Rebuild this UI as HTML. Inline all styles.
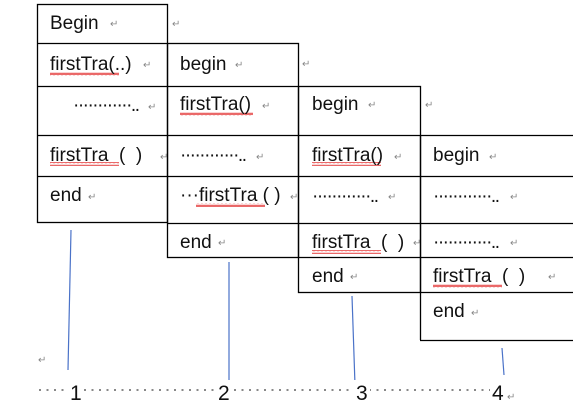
<!DOCTYPE html>
<html><head><meta charset="utf-8"><style>
html,body{margin:0;padding:0;background:#fff;}
svg{display:block}
text{font-family:"Liberation Sans","Noto Sans CJK SC",sans-serif;fill:#111;}
.t{font-size:19px}
.r{font-size:10px;fill:#888}
.n{font-size:21px}
</style></head><body>
<svg width="579" height="402" xmlns="http://www.w3.org/2000/svg">
<defs>
<pattern id="wv" width="4" height="4" patternUnits="userSpaceOnUse"><path d="M0 3 L1 1 L2 3 L3 1 L4 3" stroke="#e02020" stroke-width="0.8" fill="none"/></pattern>
</defs>
<g stroke="#000" stroke-width="1.3" fill="none">
<rect x="37.5" y="4.5" width="130" height="218"/>
<line x1="37" y1="43.5" x2="167" y2="43.5"/>
<line x1="37" y1="86.5" x2="167" y2="86.5"/>
<line x1="37" y1="135.5" x2="167" y2="135.5"/>
<line x1="37" y1="176.5" x2="167" y2="176.5"/>
<rect x="167.5" y="43.5" width="131" height="214"/>
<line x1="167" y1="86.5" x2="298" y2="86.5"/>
<line x1="167" y1="135.5" x2="298" y2="135.5"/>
<line x1="167" y1="176.5" x2="298" y2="176.5"/>
<line x1="167" y1="223.5" x2="298" y2="223.5"/>
<rect x="298.5" y="86.5" width="122" height="206"/>
<line x1="298" y1="135.5" x2="420" y2="135.5"/>
<line x1="298" y1="176.5" x2="420" y2="176.5"/>
<line x1="298" y1="223.5" x2="420" y2="223.5"/>
<line x1="298" y1="257.5" x2="420" y2="257.5"/>
<line x1="420.5" y1="135" x2="420.5" y2="340"/>
<line x1="420" y1="135.5" x2="573" y2="135.5"/>
<line x1="420" y1="176.5" x2="573" y2="176.5"/>
<line x1="420" y1="223.5" x2="573" y2="223.5"/>
<line x1="420" y1="257.5" x2="573" y2="257.5"/>
<line x1="420" y1="292.5" x2="573" y2="292.5"/>
<line x1="420" y1="340.5" x2="573" y2="340.5"/>
</g>
<g stroke="#4a72c8" stroke-width="1.2">
<line x1="71" y1="230" x2="68" y2="370"/>
<line x1="229" y1="262" x2="229" y2="398"/>
<line x1="352" y1="296" x2="355" y2="385"/>
<line x1="502" y1="348" x2="504" y2="375"/>
</g>
<g fill="url(#wv)">
<rect x="50" y="72" width="69" height="4"/>
<rect x="50" y="162" width="69" height="4"/>
<rect x="180" y="112" width="73" height="4"/>
<rect x="196" y="203" width="69" height="4"/>
<rect x="312" y="162" width="69" height="4"/>
<rect x="312" y="250" width="69" height="4"/>
<rect x="433" y="284" width="69" height="4"/>
</g>
<text class="t" x="50" y="29">Begin</text><text class="r" x="110" y="27">↵</text>
<text class="r" x="172" y="27">↵</text>
<text class="t" x="50" y="70">firstTra(..)</text><text class="r" x="143" y="68">↵</text>
<text class="t" x="73" y="111" letter-spacing="-1.5">············..</text><text class="r" x="148" y="110">↵</text>
<text class="t" x="50" y="161" xml:space="preserve">firstTra  (  )</text><text class="r" x="160" y="160">↵</text>
<text class="t" x="50" y="201">end</text><text class="r" x="88" y="200">↵</text>
<text class="t" x="180" y="70">begin</text><text class="r" x="235" y="68">↵</text>
<text class="r" x="302" y="67">↵</text>
<text class="t" x="180" y="110">firstTra()</text><text class="r" x="262" y="109">↵</text>
<text class="t" x="180" y="161" letter-spacing="-1.5">············..</text><text class="r" x="256" y="160">↵</text>
<text class="t" x="180" y="201">···firstTra ( )</text><text class="r" x="290" y="200">↵</text>
<text class="t" x="180" y="248">end</text><text class="r" x="218" y="246">↵</text>
<text class="t" x="312" y="110">begin</text><text class="r" x="368" y="108">↵</text>
<text class="r" x="425" y="108">↵</text>
<text class="t" x="312" y="161">firstTra()</text><text class="r" x="394" y="160">↵</text>
<text class="t" x="312" y="202" letter-spacing="-1.5">············..</text><text class="r" x="388" y="200">↵</text>
<text class="t" x="312" y="248" xml:space="preserve">firstTra  (  )</text><text class="r" x="413" y="246">↵</text>
<text class="t" x="312" y="282">end</text><text class="r" x="350" y="280">↵</text>
<text class="t" x="433" y="161">begin</text><text class="r" x="489" y="160">↵</text>
<text class="t" x="433" y="202" letter-spacing="-1.5">············..</text><text class="r" x="510" y="200">↵</text>
<text class="t" x="433" y="248" letter-spacing="-1.5">············..</text><text class="r" x="510" y="246">↵</text>
<text class="t" x="433" y="282" xml:space="preserve">firstTra  (  )</text><text class="r" x="548" y="280">↵</text>
<text class="t" x="433" y="317">end</text><text class="r" x="471" y="316">↵</text>
<text class="r" x="38" y="363">↵</text>
<line x1="39" y1="390" x2="505" y2="390" stroke="#888" stroke-width="2" stroke-dasharray="2,5.5"/>
<rect x="68" y="380" width="16" height="22" fill="#fff"/>
<rect x="216" y="380" width="16" height="22" fill="#fff"/>
<rect x="354" y="380" width="16" height="22" fill="#fff"/>
<rect x="490" y="380" width="18" height="22" fill="#fff"/>
<text class="n" x="70" y="400">1</text>
<text class="n" x="218" y="400">2</text>
<text class="n" x="356" y="400">3</text>
<text class="n" x="492" y="400">4</text><text class="r" x="507" y="400">↵</text>
</svg>
</body></html>
